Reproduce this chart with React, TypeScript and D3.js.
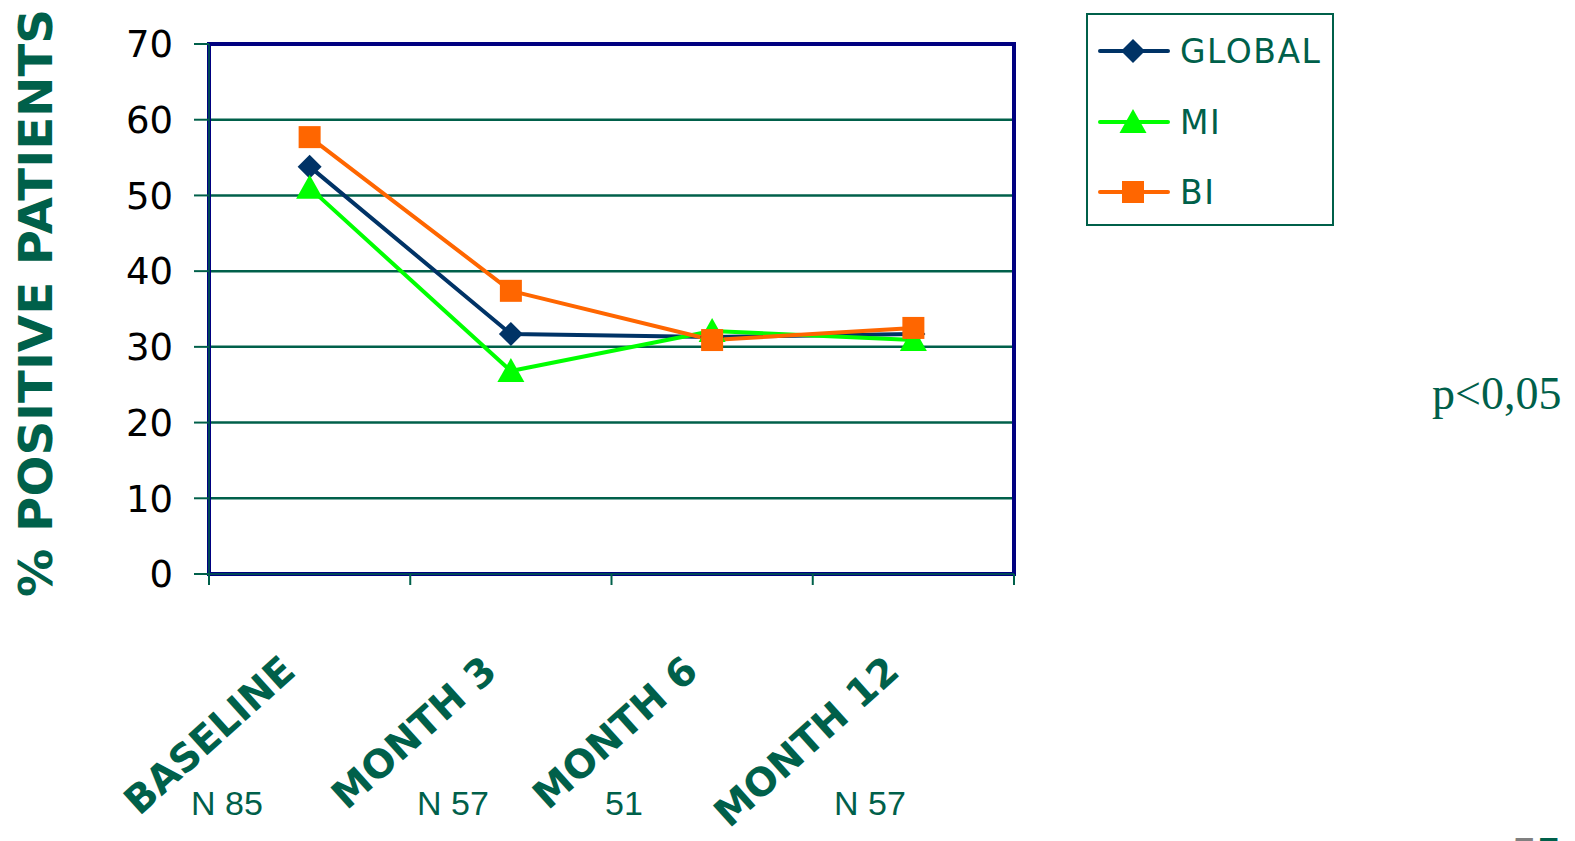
import React from "react";
import * as d3 from "d3";

const categories = ["BASELINE", "MONTH 3", "MONTH 6", "MONTH 12"];
const nLabels = ["N 85", "N 57", "51", "N 57"];
const globalValues = [53.8, 31.7, 31.3, 31.7];
const miValues = [51.0, 26.8, 32.1, 30.9];
const biValues = [57.7, 37.4, 30.9, 32.5];
const yTicks = [0, 10, 20, 30, 40, 50, 60, 70];
const seriesNames = ["GLOBAL", "MI", "BI"];

const GREEN = "#00604a";
const NAVY = "#000080";
const COLORS = ["#003366", "#00ff00", "#ff6600"];
const SHAPES = ["diamond", "triangle", "square"];

const W = 1575;
const H = 841;
const left = 209;
const right = 1014;
const top = 44;
const bottom = 574;

function Marker({ shape, x, y, color }: { shape: string; x: number; y: number; color: string }) {
  if (shape === "diamond") {
    const r = 12;
    return <path d={`M${x},${y - r}L${x + r},${y}L${x},${y + r}L${x - r},${y}Z`} fill={color} />;
  }
  if (shape === "triangle") {
    return <path d={`M${x},${y - 13}L${x + 13.5},${y + 11}L${x - 13.5},${y + 11}Z`} fill={color} />;
  }
  return <rect x={x - 11} y={y - 11} width={22} height={22} fill={color} />;
}

export default function App() {
  const x = d3.scaleBand<string>().domain(categories).range([left, right]);
  const y = d3.scaleLinear().domain([0, 70]).range([bottom, top]);
  const data = [globalValues, miValues, biValues];
  const line = d3
    .line<number>()
    .x((_, i) => (x(categories[i]) as number) + x.bandwidth() / 2)
    .y((d) => y(d));
  const boundaries = [...categories.map((c) => x(c) as number), right];

  return (
    <svg width={W} height={H} style={{ position: "absolute", left: 0, top: 0 }}>
      <rect width={W} height={H} fill="#fff" />
      {yTicks.filter((t) => t > 0 && t < 70).map((t) => (
        <line key={t} x1={left} x2={right} y1={y(t)} y2={y(t)} stroke={GREEN} strokeWidth={2.5} />
      ))}
      <rect x={left} y={top} width={right - left} height={bottom - top} fill="none" stroke={NAVY} strokeWidth={4} />
      <line x1={left} x2={left} y1={top} y2={bottom} stroke={GREEN} strokeWidth={1.5} />
      <line x1={left} x2={right} y1={bottom} y2={bottom} stroke={GREEN} strokeWidth={1.5} />
      {yTicks.map((t) => (
        <g key={t}>
          <line x1={194} x2={left} y1={y(t)} y2={y(t)} stroke={GREEN} strokeWidth={2} />
          <text x={173} y={y(t)} dy="0.36em" textAnchor="end" fontFamily="DejaVu Sans" fontSize={37} fill="#000">
            {t}
          </text>
        </g>
      ))}
      {boundaries.map((b, i) => (
        <line key={i} x1={b} x2={b} y1={bottom} y2={bottom + 11} stroke={GREEN} strokeWidth={2} />
      ))}
      {data.map((vals, si) => (
        <path key={si} d={line(vals) as string} fill="none" stroke={COLORS[si]} strokeWidth={4} strokeLinejoin="round" />
      ))}
      {data.map((vals, si) => (
        <g key={"m" + si}>
          {vals.map((v, i) => (
            <Marker key={i} shape={SHAPES[si]} x={(x(categories[i]) as number) + x.bandwidth() / 2} y={y(v)} color={COLORS[si]} />
          ))}
        </g>
      ))}
      <text
        transform={`translate(52,303) rotate(-90)`}
        textAnchor="middle"
        fontFamily="DejaVu Sans"
        fontWeight="bold"
        fontSize={46}
        fill={GREEN}
        textLength={588}
        lengthAdjust="spacingAndGlyphs"
      >
        % POSITIVE PATIENTS
      </text>
      {categories.map((c) => (
        <text
          key={c}
          transform={`translate(${(x(c) as number) + x.bandwidth() / 2 - 12},${674}) rotate(-42)`}
          textAnchor="end"
          fontFamily="DejaVu Sans"
          fontWeight="bold"
          fontSize={39}
          fill={GREEN}
        >
          {c}
        </text>
      ))}
      {nLabels.map((n, i) => (
        <text
          key={i}
          x={[227, 453, 624, 870][i]}
          y={815}
          textAnchor="middle"
          fontFamily="Liberation Sans"
          fontSize={34}
          fill={GREEN}
        >
          {n}
        </text>
      ))}
      <rect x={1087} y={14} width={246} height={211} fill="#fff" stroke={GREEN} strokeWidth={2} />
      {seriesNames.map((s, i) => {
        const ly = [51, 122, 192][i];
        return (
          <g key={s}>
            <line x1={1100} x2={1168} y1={ly} y2={ly} stroke={COLORS[i]} strokeWidth={4} strokeLinecap="round" />
            <Marker shape={SHAPES[i]} x={1133} y={ly} color={COLORS[i]} />
            <text x={1180} y={ly} dy="0.36em" fontFamily="DejaVu Sans" fontSize={33} fill={GREEN} letterSpacing={1.5}>
              {s}
            </text>
          </g>
        );
      })}
      <text x={1432} y={409} fontFamily="Liberation Serif" fontSize={46} fill={GREEN}>
        p&lt;0,05
      </text>
      <text x={1512} y={869} fontFamily="Liberation Sans" fontSize={44}>
        <tspan fill="#808080">5</tspan>
        <tspan fill={GREEN}>5</tspan>
      </text>
    </svg>
  );
}
